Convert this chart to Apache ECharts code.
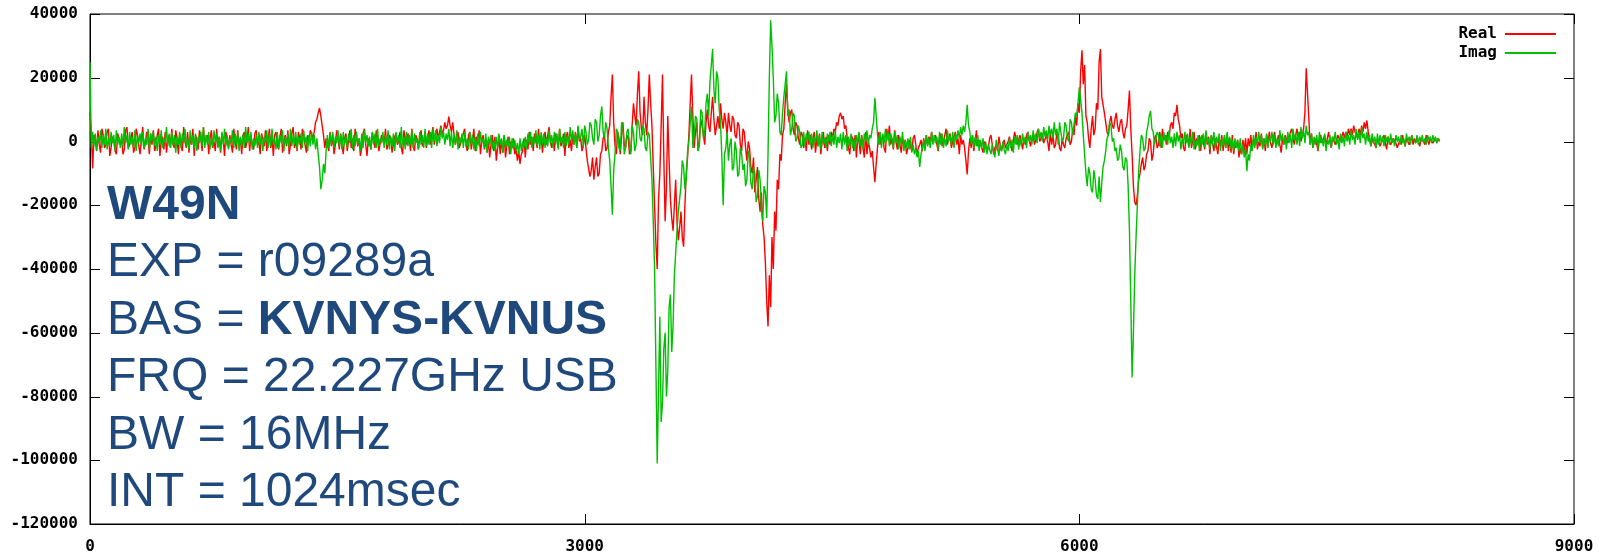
<!DOCTYPE html>
<html>
<head>
<meta charset="utf-8">
<script src="https://cdn.jsdelivr.net/npm/echarts@6/dist/echarts.min.js"></script>
<style>
html,body{margin:0;padding:0;background:#fff;}
#chart{width:1605px;height:555px;}
</style>
</head>
<body>
<div id="chart"></div>
<script>
// Channel spacing of the samples (one sample every 8 channels, 0..8184)
const STEP = 8;

// Real part, values in units of 1000, 32 samples per row
const realK = [
  9, 3, -8.5, 2, 1, -3, 3.5, -1, -3.5, 4, 2, -2, -1, 3, 4, -4.5, -2, 1.5, 0.5, -3, -4, 2.5, 2.5, -1, 1, -4, -2.5, 3.5, 4.5, -2, -1, 1,
  3, -3.5, -2, 4, 2, -1.5, -4, 1, 4.5, -2.5, -0.5, 3, 1, -4, 2.5, -1, 3.5, -3, -1.5, 2, 4, -4.5, 0, 1.5, -2.5, 3, -3.5, 0.5, 2, -2, 4, -1,
  -2, 3.5, 1, -4, 2.5, -1.5, -3, 4.5, 0, -2, 3, -3.5, 1.5, -1, 4, -4.5, 2, 0.5, -2.5, 3.5, 1, -3, 4.5, -1, -0.5, 2, -4, 1, 3.5, -2, 0, -3,
  4, -1.5, 1.5, -3.5, 2.5, 0.5, -4.5, 3, 1, -2, 2, -1, -3.5, 4, 0.5, -2.5, 3.5, -1.5, 1, -4, 2, 3, -2, 0, 4.5, -3, 1.5, -1, -2.5, 2.5, 3.5, -1,
  0, -4, 2.5, 1, -1.5, 3.5, -3, 0.5, 4, -2, 1, -4.5, 2, 3, -1, -2.5, 1.5, 4, -3.5, 0, 2, -1.5, 3.5, -4, -1, 2.5, 4.5, -2, 0.5, -3, 3, 1,
  -2.5, 4, 1.5, -1, -3.5, 2, 0, 3.5, 4, 1, 3, 6, 7, 9, 10.5, 8, 5, 2, -2, 1, 0.5, -3, 3, -1.5, 2, -4, -1, 3.5, 1, -2.5, 2.5, -1,
  -4, 1, 2.5, -3, 0, 3.5, -2, 1, -3, 4, 3.5, -1.5, 1, -4.5, -2, 2.5, 4, -1, -4.5, 1, 1.5, -2.5, 3, 0.5, -2, 3.5, 0.5, -3, -3, 2, 2, -1,
  4, -2.5, -1, 2, 1, -3.5, -3.5, 1.5, 2.5, -1, 0, 3, -2, -4, 3.5, 1, -1, 2.5, 1, -3, 4, -1.5, -3, 2, 0.5, -2.5, 2, 3.5, -1.5, -0.5, 3, -2,
  1, 3.5, -1, 2, 4.5, -1, 2, 4, 1, 3, 5, 2.5, 3.5, 6, 4, 5, 7.8, 5, 3, 6, 2, -1, 1.5, 3, -2, -2.5, 1, 0.5, 4, -1, -3, 2,
  3, -2.5, 0.5, 4, -3, 1.5, -1, 3.5, -4, 0, 2, -2.5, 1, -3.5, 0.5, -5, -1, 2, -3, 1.5, -6, -2, 1, -4, 0.5, -3.5, 2, -5, -1, 1.5, -4, 0,
  -2, 1, -4, -2, -6, -3, -7, -4, -3, 1, -5, 0.5, -2.5, 3, -1, 1.5, -3, 2.5, 0, -2, 4, -1, 2, -3.5, 1, 3, -1, 2, 4.5, 0, -2, 1,
  -3, 2.5, 1, -2, 4, -1.5, 0, 2.5, -4.5, 1.5, 3, -2, 0.5, -3, 2, -1, 3, -2, 4.5, 0, 1, -3, -1, 2, 2, -6, -6, -11, -9, -5, -12, -8,
  -5, -11, -10, -4, -3, 1, 2, -3, -2, 3, 5, 14, 21, 6, -1, -4, 3, 1, -4, 2, 6, -1, -2, 2, 1, -4, -3, 5, 12, 8, 5, 15,
  22, 9, 4, 2, 14, 6, 2, 10, 21, 12, 5, -8, -20, -32, -40, -18, -10, 5, 21, -5, -25, -14, 8, -6, -18, -24, -28, -20, -12, -25, -31, -27,
  -22, -30, -33, -20, -10, -5, 2, 12, 21, 8, -2, 3, 6, -3, 0, 7, 5, 2, -1, 6, 10, 5, 3, 9, 14, 7, 2, 5, 8, 4, 12, 7,
  4, 9, 6, 2, 9, 5, 3, 8, 7, 2, 1, 6, 5, -1, -3, 4, 3, -2, -6, 0, -2, -8, -10, -5, -16, -12, -8, -18, -22, -16, -26, -30,
  -38, -50, -58, -42, -52, -30, -40, -22, -28, -12, -15, -4, -6, 2, 4, 12, 18, 10, 6, 9, 10, 4, 2, 6, 5, 1, -1, 3, 2, -2, 1, -3,
  3.5, -1, 2, -2.5, 0.5, 3, -3.5, 1, -1.5, 2.5, -4, 0, 3, -2, 1.5, -3, 2, -1, 3, 1, 4, 3, 6, 5, 8, 9, 7, 8, 4, 5, 1, -2,
  -4, 2, 1, -3, 2, -5, 1, 0, -4, 2, -2, -5, 3, -4, 0, -2, -5, -3, -8, -12.8, -7, -2, 3, -1, 0.5, 2, -2, -3.5, 4, 1, 5, -1,
  1, -2.5, 3.5, 0, -2.5, 2, -1, -3.5, 1, -1, 0.5, -4, -2, 0.5, -1.5, -3, 1, 2, -1, -4, -2, -1, 0.5, -3, 1, -2, 2, -1, 1.5, -0.5, 3, -0.5,
  -0.5, 2, -1, -3, 1, 2.5, -1.5, 0, 2, 4, -1, 1, 2.5, -2, 0, 0.5, 3, -1, 1, -4, 2, -1, 0.5, -2, -6, -10.3, -3, 1, -2, 2, -3, 0,
  3.5, -1.5, 0.5, 1, -2, -3.5, 0, -1, -3, -2, 1, 2, -1, -4, -2, -1, -3, 1.5, -1, -3, -1, 0.5, -2, -2, 0, 1.5, -1, -3, 0.5, 3, 1, -1,
  -1, 2, 0, -2.5, 1, -1, 2, 3, 0.5, -1.5, 1, 2, -1, 0.5, 3, 4, 0, 1, 2.5, -0.5, -1, 2, 0, -3, 3, -1, 2, -2, -1, 3, 2, -2,
  -3, 1, -1, -2, 1, 2, 3, -1, 0, 4, 2, 8, 5, 12, 9, 22, 28.6, 18, 24, 8, 6, 1, -2, 4, 8, 2, 4, 12, 10, 25, 29, 14,
  14, 9, 6, 3, 2, 6, 8, 5, 4, 7, 9, 5, 3, 6, 7, 3, 1, 4, 5, 10, 16, 4, -4, -14, -19, -20, -17, -12, -10, -7, -5, -9,
  -7.6, -4, -3, 1, 0, -6, -4, 1, 2, -2, -1, 3, -2, 4, 0.5, 2, -1, 3, 1, 5, 6, 4, 9, 8, 11.5, 7, 5, 1, 2.5, -2, -3, 2,
  1, -1.5, 4, -2, 0.5, 3, -2.5, 1, -1, 2, -3, 2, 0, -2.5, 3, -1, 1.5, -4, 2, -0.5, -3, 1, 0.5, -4, 1, -1.5, 2, -3, 1.5, -2, 2, -3,
  1, -3.5, 2, -4, -1, -2, 0.5, -5, -2, -4, 0.5, -3, 1, -4, 1, -1.5, 2, -3, 1, -1, 3, -2.5, 0, -1.5, 2.5, -2, 1, -3, 2, -1, 3, -0.5,
  -2, 1, 3, -1, 0.5, 2, -1, -3.5, 1, -1, 2, 2.5, -0.5, 0, 3, 4, 1, -1, 2, 4, 1, 3, 0, 2, 4, 9, 23, 15, 7, -1, 2.5, -2,
  -2, 1, -1, -3, 1, 2, -0.5, 0, 2, -1.5, 1, 3, 0, -2, 1.5, 1, -1, -1, 2, 2.5, 0, 0, 3, 1, 3, 1.5, 4, 2, 4, 2, 5, 3,
  3, 1, 4, 2, 5, 3, 6, 4, 6.6, 3, 2.5, -1.5, 0.5, 1, -1, -2, 1, 0.5, -1.5, -1, 1, 2, -0.5, -2.5, 1.5, 1, -1, -0.5, 1, 1.5, -0.5, -2,
  -2, 0.5, -1, 2, 0, -1.5, 1, 1.5, -1, 0, 2, -1, 1, -0.5, 1.5, 1, -1.5, 0.5, 1, 0, -1, 2, 0.5, -1, 1, 1.5, -0.5, 0, 1, -0.5, 1, 0
];

// Imaginary part, values in units of 1000, 32 samples per row
const imagK = [
  25, -2, 3, -1.5, 2.5, -3, 1.5, -0.5, 3.5, -2, 2, -1, 4, -2.5, 1, -1.5, 3, -0.5, 2, -3, 3.5, -1, 1.5, -2, 2.5, -1.5, 4.5, -0.5, 2, -2.5, 3, -1,
  1.5, -2, 3.5, -3, 2, -0.5, 2.5, -1.5, 3, -2, 1, -1, 4, -2.5, 2.5, 0, 3, -1.5, 1.5, -3, 2, -1, 3.5, -2, 1, -0.5, 4.5, -1.5, 2.5, -2, 3, -1,
  2, -3.5, 1.5, -1, 3, -2, 2.5, -0.5, 4, -1.5, 1, -2.5, 3.5, -1, 2, -2, 2.5, -3, 1.5, -0.5, 3, -1.5, 4.5, -2, 2, -1, 3, -2.5, 1, -1.5, 3.5, -0.5,
  2.5, -2, 1.5, -3, 3, -1, 4, -1.5, 2, -2.5, 1, -0.5, 3.5, -2, 2.5, -1, 3, -3, 1.5, -1.5, 2, -2, 4.5, -0.5, 2.5, -1, 3, -2.5, 1, -1.5, 2, -2,
  3, -1, 2, -3, 1.5, -0.5, 3.5, -2, 2.5, -1.5, 4, -1, 1, -2.5, 3, -2, 2, -0.5, 3.5, -3, 1.5, -1, 2.5, -2, 4, -1.5, 2, -1, 3, -2.5, 1.5, -1,
  2.5, -2, 3.5, -0.5, 1.5, -3, 2, -1.5, 3, -1, 2, -2.5, 1, -4, -8, -15, -12, -7, -10, -3, 2, -2, 2.5, -1, 3, -2, 1.5, -0.5, 3.5, -1.5, 2, -2.5,
  3, -1, 1.5, -2, 2.5, -0.5, 4, -2.5, 2, -1.5, 3, -1, 1, -3, 2.5, -2, 3.5, -0.5, 2, -1.5, 1.5, -2.5, 3, -1, 2.5, -2, 4, -1.5, 1, -0.5, 3, -2,
  2, -1, 3.5, -2.5, 1.5, -1.5, 2.5, -3, 3, -0.5, 2, -2, 4.5, -1, 1.5, -2.5, 3, -1.5, 2, -1, 3.5, -2, 2.5, -0.5, 1, -2.5, 3, -1, 2, -2, 4, -1.5,
  2.5, -1, 3, -2, 4, 0, 3.5, -1.5, 2, -0.5, 4.5, 1, 3, -1, 2.5, 0.5, 4, -1.5, 3, -2, 2, -1, 3.5, -2.5, 1.5, -0.5, 2.5, -2, 3, -1.5, 1, -2.5,
  3, -1, 2, -2.5, 1.5, -3, 2.5, -1.5, 3, -0.5, 1, -2, 2.5, -3.5, 1.5, -1, 2, -2.5, 0.5, -3, 1.5, -2, 2.5, -1, 1, -3.5, 2, -2, 0.5, -1.5, 1.5, -4,
  1, -2.5, 0.5, -3, -0.5, -4, 1, -3, 0, -2, 1.5, -2.5, 2.5, -1, 3, -2, 1.5, -0.5, 3.5, -1.5, 2, -2.5, 3, -1, 2.5, -2, 1, -1.5, 3.5, -0.5, 2, -2,
  3, -1, 2.5, -2.5, 4, -0.5, 1.5, -2, 3, -1.5, 2, -1, 4.5, 0, 3.5, -1, 2.5, -2, 5, 0.5, 1.5, 4, -2, 5, 3, -1, 0.5, 6, 5, 1, -1, 7,
  6, 0, 2, 8, 11, 3, 1, 6, 4, -2, -6, -14, -23, -9, -4, 4, 3, -2, -3, 6, 5, -4, -2, 3, 4, -1, -4, 5, 3, -3, -1, 7,
  6, 1, 0, 5, 4, -2, -3, 3, 2, -5, -12, -25, -40, -70, -101, -78, -55, -88, -82, -65, -60, -80, -72, -52, -48, -66, -58, -42, -35, -28, -22, -18,
  -14, -6, -8, -15, -12, -3, 0, 6, 11, -2, 2, 8, 7, -3, -1, 10, 9, 1, 3, 12, 15, 8, 19, 24, 29, 16, 12, 22, 20, 10, 6, -5,
  -20, -4, -2, 3, -6, -1, 1, -9, -8, 0, -3, -11, -10, -2, -4, -9, -7, -14, -12, -3, -5, -13, -15, -8, -10, -19, -17, -9, -12, -22, -25, -14,
  -16, -24, -4, 20, 38, 30, 20, 6, 8, 15, 12, 3, 2, 9, 14, 18, 22, 8, 10, 2, 4, 9, 8, 0, 1, 5, 3, -2, -1, 3, -1.5, 2.5,
  0, 3, -1, 2.5, -2, 1.5, -0.5, 3.5, -1.5, 2, -2.5, 3, -1, 1, -2, 2.5, 0, 3, -1.5, 2, -1, 3.5, -2, 1.5, -0.5, 2.5, -2.5, 3, -1, 2, -3, 1.5,
  -1.5, 2.5, -2, 1, -3, 2, -0.5, 3, -1.5, 1.5, -2.5, 2.5, 0, 3.5, -1, 2, 1, 4, 6, 13.7, 8, 2, -1, 3, -2, 2.5, -0.5, 4, 0, 3, -1.5, 2.5,
  1, -2, 3, -0.5, 2, -2.5, 1.5, -1, 3, -3, 0.5, -2, 1, -2.5, 1.5, -3.5, -1, -4, -2, -5, -3, -8, -4, -2, 0.5, -3, 2, -1.5, 1, -2, 3, -1,
  2, -0.5, 1.5, -2.5, 3, -1, 2.5, -2, 1, -1.5, 3.5, 0, 2, -1, 3, -2, 2.5, 0.5, 3.5, 1, 4.5, 2, 5, 3, 6, 11.5, 5, 3, -1, 2, -2, 1.5,
  -1.5, 2, -3, 0.5, -2, 1, -3.5, 0, -4, -1, -2.5, -4, -1, -3, -5, 0.5, -2, -4.5, -1, -3, 0, -2.5, -4, -1, -3, 1, -2, 0.5, -3.5, 1.5, -1, 2,
  -2.5, 1, -1.5, 2.5, -0.5, 1.5, -2, 3, 0, 2, -1, 3.5, 0.5, 2.5, -0.5, 4, 1, 3, 0, 4.5, 1.5, 3.5, 0.5, 5, 2, 4, 1, 6, 2, 4, -1, 6,
  3, 0, 1, 6, 5, 1, 0, 7, 6, 2, 2, 9, 8, 12, 17, 13, 9, 2, -4, -10, -14, -8, -10, -15, -16, -9, -12, -17, -18, -11, -19, -13,
  -8, -6, -3, 1, 2, 6, 5, 0, 1, -3, -2, -6, -5, -1, -3, -8, -9, -5, -6, -14, -28, -50, -74, -60, -42, -30, -20, -9, -3, 2, 1, -3,
  -2, 3, 5, 8, 9.6, 4, 3, -1, -1, 3, 2, -1.5, 2.5, -2, 3, 0, 2, -1, 3.5, -0.5, 1.5, -2, 2.5, -1.5, 3, 0, 2, -2.5, 1, -1, 3, -0.5,
  2.5, -2, 1.5, -1, 3, -2.5, 0.5, -1.5, 2, -3, 1.5, -1, 2.5, -2, 3.5, -0.5, 1, -2.5, 2, -1, 3, -2, 1.5, -0.5, 2.5, -3, 1, -1.5, 2, -2, 3, -1,
  1.5, -2.5, 0.5, -3, 1, -2, 0.5, -3, 1, -4, -1, -5, -2, -9.3, -4, -6, -1, -3, 2, -2, 1.5, -1, 3, -0.5, 2, -2.5, 1, -1.5, 2.5, -2, 1.5, 0,
  3, -1, 2, -2, 1, -1.5, 3.5, 0, 2.5, -1, 1.5, -2.5, 3, -0.5, 2, -2, 4, 0.5, 2.5, -1, 3, -1.5, 4.5, 1, 3.5, -0.5, 5, 2, 3, -1, 2.5, -2,
  1.5, -1, 2, -2.5, 3, -0.5, 1, -1.5, 2.5, -3, 0.5, -1, 2, -2, 1.5, 0, 3, -1, 1, -2.5, 2.5, -0.5, 1.5, -1.5, 3, 0, 2, -1, 3.5, 0.5, 2, -1,
  4, 0.5, 3, -0.5, 4.5, 1, 2.5, -1, 3, 0, 2, -1.5, 2.5, -0.5, 1.5, -2, 2.5, -1, 2, -0.5, 1.5, -1.5, 2, 0, 1.5, -1, 2.5, -0.5, 1, -1.5, 2, 0,
  1.5, -1, 2, -0.5, 1, -1.5, 2.5, 0, 1.5, -1, 2, 0.5, 1, -0.5, 2, -1, 1.5, 0, 2, -0.5, 1, -1, 2, 0.5, 1.5, -0.5, 2, 0, 1.5, -0.5, 1, 0.5
];

const seriesNames = ['Real', 'Imag'];
const seriesColors = ['#ff0000', '#00c000'];
const xTicks = [0, 3000, 6000, 9000];
const yTicks = [-120000, -100000, -80000, -60000, -40000, -20000, 0, 20000, 40000];
const infoLines = [
  ['W49N', ''],
  ['EXP = r09289a', ''],
  ['BAS = ', 'KVNYS-KVNUS'],
  ['FRQ = 22.227GHz USB', ''],
  ['BW = 16MHz', ''],
  ['INT = 1024msec', '']
];

const realData = realK.map((v, i) => [i * STEP, v * 1000]);
const imagData = imagK.map((v, i) => [i * STEP, v * 1000]);

const tickFont = { fontFamily: '"DejaVu Sans Mono", monospace', fontWeight: 'bold', fontSize: 16, color: '#000' };
const textColor = '#1F497D';
const TXT_X = 107, BASE0 = 222, LINE_H = 57.5, MID_OFF = 16.6;
const TICK_LEN = 10;

const textGraphics = infoLines.map((ln, k) => {
  const y = BASE0 + k * LINE_H - MID_OFF;
  if (k === 0) {
    return { type: 'text', x: TXT_X, y: y, z: 100,
      style: { text: ln[0], font: 'bold 48px "Liberation Sans", Arial, sans-serif', fill: textColor, align: 'left', verticalAlign: 'middle' } };
  }
  if (ln[1]) {
    return { type: 'text', x: TXT_X, y: y, z: 100,
      style: { text: '{r|' + ln[0] + '}{b|' + ln[1] + '}', align: 'left', verticalAlign: 'middle',
        rich: {
          r: { font: '48px "Liberation Sans", Arial, sans-serif', fill: textColor },
          b: { font: 'bold 48px "Liberation Sans", Arial, sans-serif', fill: textColor }
        } } };
  }
  return { type: 'text', x: TXT_X, y: y, z: 100,
    style: { text: ln[0], font: '48px "Liberation Sans", Arial, sans-serif', fill: textColor, align: 'left', verticalAlign: 'middle' } };
});

const yMin = yTicks[0], yMax = yTicks[yTicks.length - 1], yInt = yTicks[1] - yTicks[0];
const xMin = xTicks[0], xMax = xTicks[xTicks.length - 1], xInt = xTicks[1] - xTicks[0];

const chart = echarts.init(document.getElementById('chart'), null, { renderer: 'canvas' });
chart.setOption({
  animation: false,
  backgroundColor: '#fff',
  grid: { left: 90, right: 31, top: 14, bottom: 27, show: true, borderColor: '#000', borderWidth: 1, backgroundColor: 'transparent' },
  legend: {
    data: seriesNames,
    orient: 'vertical',
    right: 44,
    top: 21,
    align: 'right',
    icon: 'rect',
    itemWidth: 51,
    itemHeight: 2,
    itemGap: 3,
    textStyle: { fontFamily: '"DejaVu Sans Mono", monospace', fontWeight: 'bold', fontSize: 16, color: '#000', padding: [0, 3, 0, 0] }
  },
  xAxis: {
    type: 'value', min: xMin, max: xMax, interval: xInt, position: 'bottom',
    axisLine: { show: true, onZero: false, lineStyle: { color: '#000', width: 1 } },
    axisTick: { show: false },
    axisLabel: Object.assign({ margin: 15, formatter: v => String(v) }, tickFont),
    splitLine: { show: false }
  },
  yAxis: {
    type: 'value', min: yMin, max: yMax, interval: yInt, position: 'left',
    axisLine: { show: true, onZero: false, lineStyle: { color: '#000', width: 1 } },
    axisTick: { show: false },
    axisLabel: Object.assign({ margin: 12, formatter: v => String(v) }, tickFont),
    splitLine: { show: false }
  },
  series: [
    { name: seriesNames[0], type: 'line', data: realData, showSymbol: false, symbol: 'none',
      lineStyle: { width: 1.4, color: seriesColors[0] }, itemStyle: { color: seriesColors[0] }, z: 2 },
    { name: seriesNames[1], type: 'line', data: imagData, showSymbol: false, symbol: 'none',
      lineStyle: { width: 1.4, color: seriesColors[1] }, itemStyle: { color: seriesColors[1] }, z: 3 }
  ],
  graphic: textGraphics
});

// Inward tick marks on all four borders (gnuplot style), placed through the axis scales
const xl = chart.convertToPixel({ xAxisIndex: 0 }, xMin);
const xr = chart.convertToPixel({ xAxisIndex: 0 }, xMax);
const yb = chart.convertToPixel({ yAxisIndex: 0 }, yMin);
const yt = chart.convertToPixel({ yAxisIndex: 0 }, yMax);
const tickGraphics = [];
yTicks.forEach(v => {
  const y = Math.round(chart.convertToPixel({ yAxisIndex: 0 }, v)) + 0.5;
  tickGraphics.push({ type: 'line', z: 1, silent: true, shape: { x1: xl, y1: y, x2: xl + TICK_LEN, y2: y }, style: { stroke: '#000', lineWidth: 1 } });
  tickGraphics.push({ type: 'line', z: 1, silent: true, shape: { x1: xr - TICK_LEN, y1: y, x2: xr, y2: y }, style: { stroke: '#000', lineWidth: 1 } });
});
xTicks.forEach(v => {
  const x = Math.round(chart.convertToPixel({ xAxisIndex: 0 }, v)) + 0.5;
  tickGraphics.push({ type: 'line', z: 1, silent: true, shape: { x1: x, y1: yb, x2: x, y2: yb - TICK_LEN }, style: { stroke: '#000', lineWidth: 1 } });
  tickGraphics.push({ type: 'line', z: 1, silent: true, shape: { x1: x, y1: yt, x2: x, y2: yt + TICK_LEN }, style: { stroke: '#000', lineWidth: 1 } });
});
chart.setOption({ graphic: textGraphics.concat(tickGraphics) });
</script>
</body>
</html>
